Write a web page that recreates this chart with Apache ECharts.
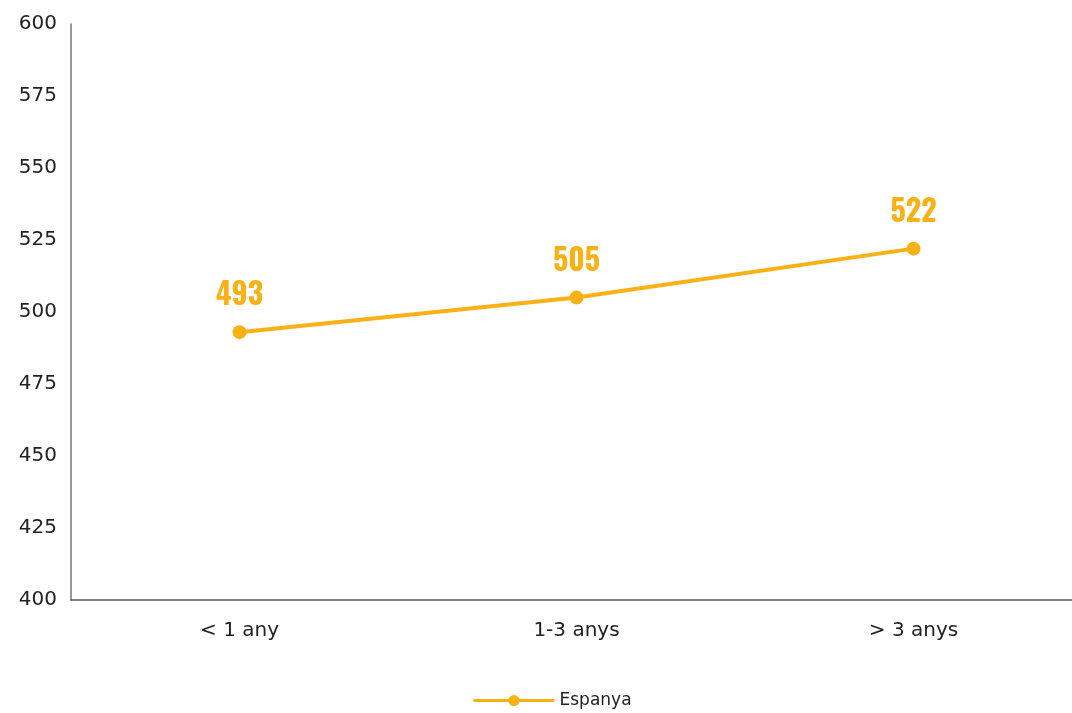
<!DOCTYPE html>
<html>
<head>
<meta charset="utf-8">
<script src="https://cdn.jsdelivr.net/npm/echarts@6/dist/echarts.min.js"></script>
<style>
  html, body { margin: 0; padding: 0; background: #fff; }
  #chart { width: 1072px; height: 713px; }
</style>
</head>
<body>
<div id="chart"></div>
<script>
// Categories and values for the line
const categories = ['< 1 any', '1-3 anys', '> 3 anys'];
const espanya = [493, 505, 522];
const yTicks = { min: 400, max: 600, interval: 25 };

const orange = '#f9b115';
const textFont = '"DejaVu Sans", sans-serif';

const chart = echarts.init(document.getElementById('chart'));
chart.setOption({
  animation: false,
  // plot area runs a little past the right edge of the canvas
  grid: { left: 71, top: 24, width: 1011, height: 576, outerBoundsMode: 'none', containLabel: false },
  xAxis: {
    type: 'category',
    data: categories,
    boundaryGap: true,
    axisLine: { show: true, lineStyle: { color: '#555', width: 1.5 } },
    axisTick: { show: false },
    axisLabel: { color: '#222', fontSize: 20, fontFamily: textFont, margin: 21 }
  },
  yAxis: {
    type: 'value',
    min: yTicks.min,
    max: yTicks.max,
    interval: yTicks.interval,
    axisLine: { show: true, lineStyle: { color: '#777', width: 1.5 } },
    axisTick: { show: false },
    splitLine: { show: false },
    axisLabel: { color: '#222', fontSize: 20, fontFamily: textFont, margin: 14 }
  },
  legend: {
    top: 687,
    left: 467,
    itemWidth: 81,
    itemHeight: 14,
    itemGap: 10,
    itemStyle: { color: orange },
    lineStyle: { color: orange, width: 3 },
    textStyle: { color: '#222', fontSize: 17, fontFamily: textFont },
    data: ['Espanya']
  },
  series: [{
    name: 'Espanya',
    type: 'line',
    data: espanya,
    symbol: 'circle',
    symbolSize: 14,
    itemStyle: { color: orange },
    lineStyle: { color: orange, width: 4 },
    label: {
      show: true,
      position: 'top',
      distance: 14,
      color: orange,
      fontSize: 30,
      fontWeight: 'bold',
      fontFamily: 'Oswald, "Roboto Condensed", sans-serif'
    }
  }]
});
</script>
</body>
</html>
